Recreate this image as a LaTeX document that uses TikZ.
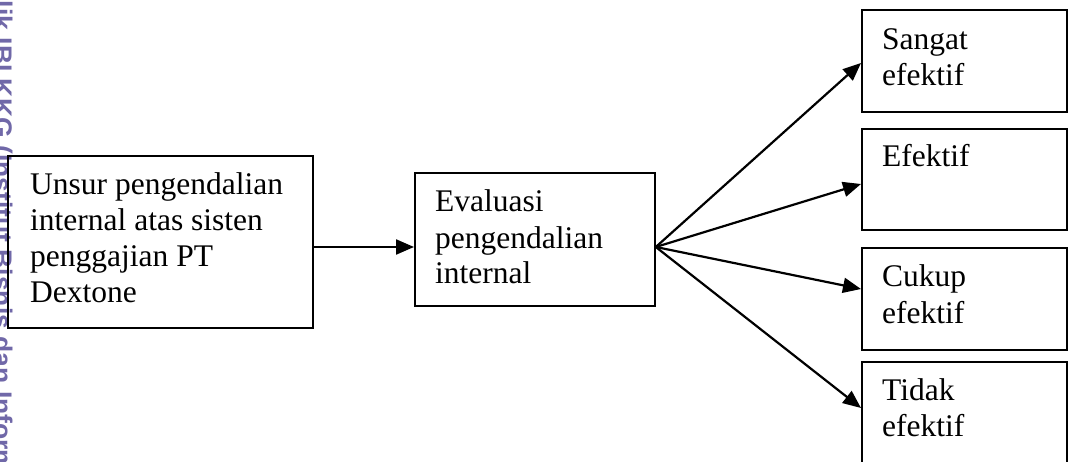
\documentclass[tikz,border=0pt]{standalone}
\usepackage{fontspec}
\setmainfont{Liberation Serif}
\newfontfamily\wmfont{Liberation Sans}
\usetikzlibrary{arrows.meta,calc}
\definecolor{wm}{RGB}{112,104,168}
\newcommand\boxtext[1]{\parbox[t]{330pt}{\fontsize{31.5}{36}\selectfont\raggedright #1}}
\begin{document}
\begin{tikzpicture}[x=1pt,y=-1pt,
  box/.style={draw=black,line width=1.8pt,inner sep=0pt,anchor=north west},
  txt/.style={anchor=base west,inner sep=0pt},
  arr/.style={line width=2.2pt,-{Triangle[length=18pt,width=15pt]}},
  wmtext/.style={rotate=-90,inner sep=0pt,text=wm,font=\wmfont\bfseries\fontsize{26.5}{30}\selectfont}]
\useasboundingbox (0,0) rectangle (1070,462);
% watermark
\begin{scope}
\clip (0,0) rectangle (30,462);
\node[wmtext,anchor=base east] (wm1) at (-6.5,138) {Hak Cipta milik IBI KKG};
\node[wmtext,anchor=base west] (wm2) at (-6.5,145) {(Institut Bisnis dan Informatika Kwik Kian Gie)};
\end{scope}
% boxes
\node[box,minimum width=305pt,minimum height=172pt] (L) at (7,155) {};
\node[box,minimum width=240pt,minimum height=133pt] (M) at (414,172) {};
\node[box,minimum width=205pt,minimum height=102pt] (R1) at (861,9) {};
\node[box,minimum width=205pt,minimum height=101pt] (R2) at (861,128) {};
\node[box,minimum width=205pt,minimum height=102pt] (R3) at (861,247) {};
\node[box,minimum width=205pt,minimum height=119pt] (R4) at (861,361) {};
% texts
\node[txt] (tL) at (30,195) {\boxtext{Unsur pengendalian\\internal atas sisten\\penggajian PT\\Dextone}};
\node[txt] (tM) at (435,212) {\boxtext{Evaluasi\\pengendalian\\internal}};
\node[txt] (t1) at (882,50) {\boxtext{Sangat\\efektif}};
\node[txt] (t2) at (882,167) {\boxtext{Efektif}};
\node[txt] (t3) at (882,287) {\boxtext{Cukup\\efektif}};
\node[txt] (t4) at (882,400) {\boxtext{Tidak\\efektif}};
% connectors
\coordinate (F) at (M.east |- 0,247);
\draw[arr] (L.east |- F) -- (M.west |- F);
\draw[arr] (F) -- (R1.west |- 0,63);
\draw[arr] (F) -- (R2.west |- 0,184);
\draw[arr] (F) -- (R3.west |- 0,289);
\draw[arr] (F) -- (R4.west |- 0,408);
\end{tikzpicture}
\end{document}
